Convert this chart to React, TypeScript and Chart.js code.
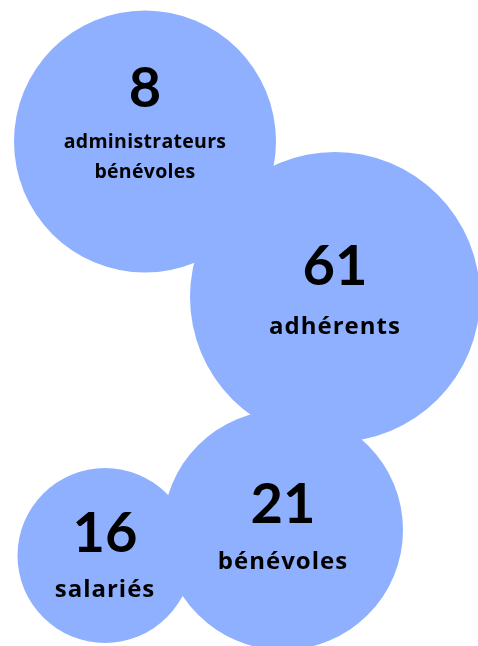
import React, { useEffect, useRef } from "react";
import { Chart, registerables } from "chart.js";

Chart.register(...registerables);

const numbers = ["8", "61", "21", "16"];
const labels = [["administrateurs", "bénévoles"], ["adhérents"], ["bénévoles"], ["salariés"]];
const xs = [145, 335, 283, 105];
const ys = [141.5, 297, 530, 555.5];
const radii = [131, 145, 120, 87.5];

const W = 478;
const H = 646;
const BUBBLE = "rgb(143,175,255)";
// text layout: offset of number centre and first label line centre from bubble centre
const numOffset = [-53, -30, -25, -22];
const labelOffset = [0.5, 30, 32, 35];
const labelSize = [19.5, 24, 24, 24];
const labelSpacing = [0.3, 1, 1, 1];
const lineGap = [30, 0, 0, 0];

const textPlugin = {
  id: "bubbleText",
  afterDatasetsDraw(chart: any) {
    const ctx = chart.ctx;
    const meta = chart.getDatasetMeta(0);
    ctx.save();
    ctx.fillStyle = "#000";
    ctx.textAlign = "center";
    ctx.textBaseline = "middle";
    meta.data.forEach((el: any, i: number) => {
      ctx.letterSpacing = "0px";
      ctx.font = "bold 56px Lato";
      ctx.fillText(numbers[i], el.x, el.y + numOffset[i]);
      ctx.font = `bold ${labelSize[i]}px "Open Sans"`;
      ctx.letterSpacing = `${labelSpacing[i]}px`;
      labels[i].forEach((t, j) => {
        ctx.fillText(t, el.x, el.y + labelOffset[i] + j * lineGap[i]);
      });
    });
    ctx.restore();
  },
};

export default function App() {
  const ref = useRef<HTMLCanvasElement>(null);
  useEffect(() => {
    document.body.style.margin = "0";
    const chart = new Chart(ref.current!, {
      type: "bubble",
      data: {
        datasets: [
          {
            data: xs.map((x, i) => ({ x, y: ys[i], r: radii[i] })),
            backgroundColor: BUBBLE,
            borderWidth: 0,
            hoverRadius: 0,
          },
        ],
      },
      options: {
        animation: false,
        responsive: false,
        devicePixelRatio: 1,
        events: [],
        layout: { padding: 0, autoPadding: false },
        clip: false,
        plugins: { legend: { display: false }, tooltip: { enabled: false } },
        scales: {
          x: { type: "linear", min: 0, max: W, display: false },
          y: { type: "linear", min: 0, max: H, reverse: true, display: false },
        },
      },
      plugins: [textPlugin],
    } as any);
    return () => chart.destroy();
  }, []);
  return (
    <div style={{ position: "absolute", left: 0, top: 0, width: W, height: H }}>
      <canvas ref={ref} width={W} height={H} />
    </div>
  );
}
